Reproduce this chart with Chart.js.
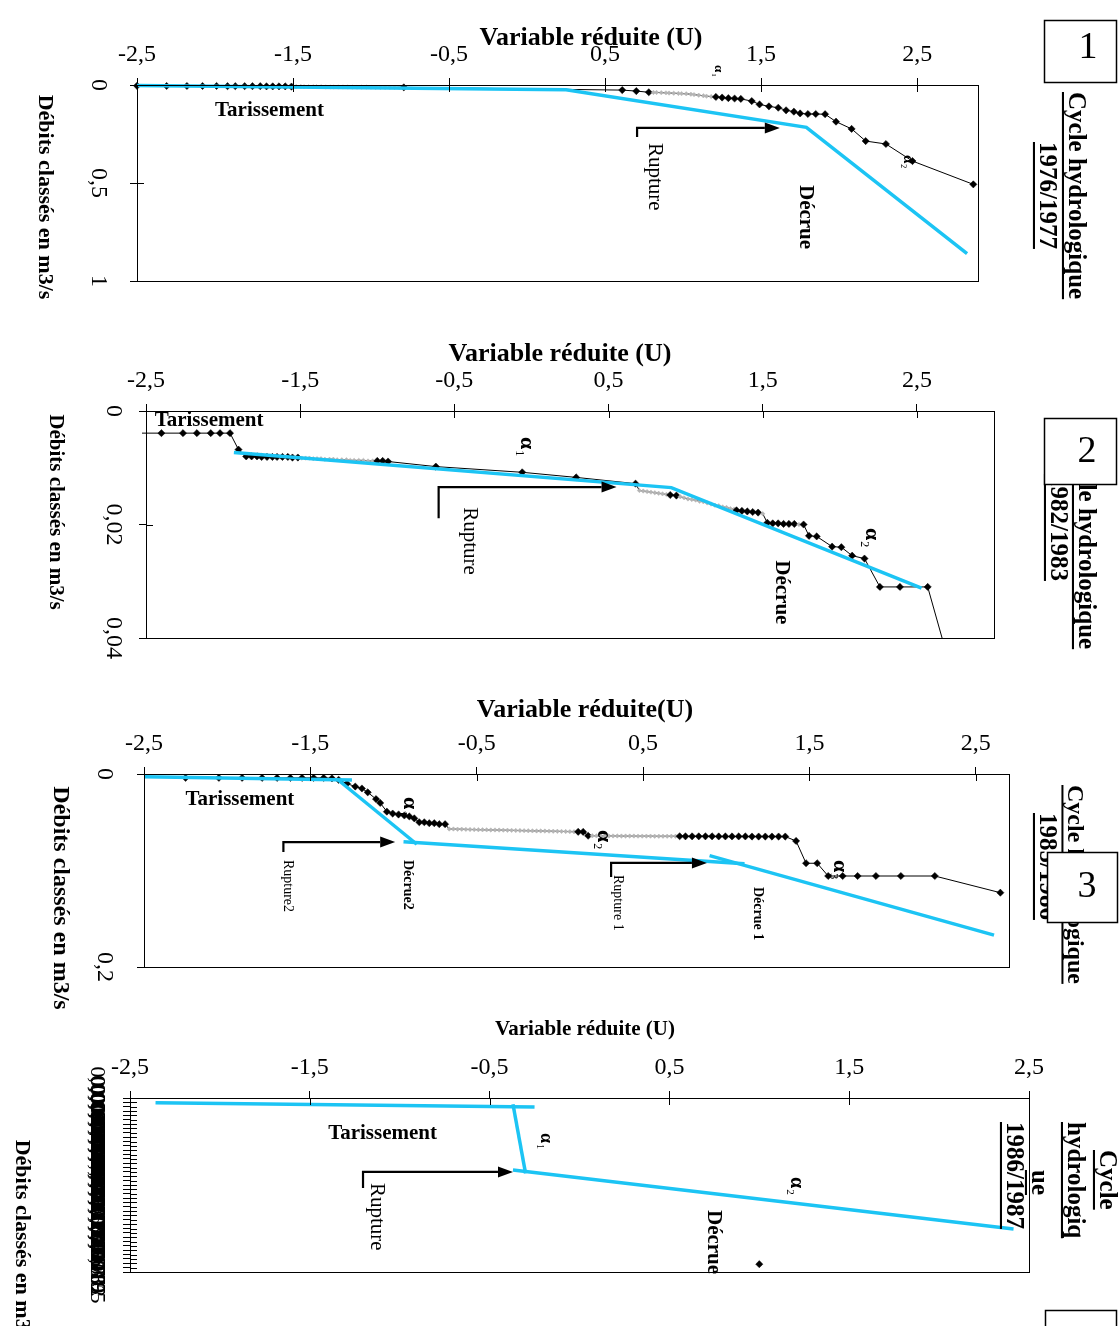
<!DOCTYPE html>
<html lang="fr">
<head>
<meta charset="utf-8">
<title>Débits classés - variable réduite</title>
<script src="https://cdn.jsdelivr.net/npm/chart.js@4.4.1/dist/chart.umd.min.js"></script>
<style>
  html, body { margin: 0; padding: 0; background: #fff; }
  body { position: relative; width: 1119px; height: 1326px; overflow: hidden; }
  canvas { position: absolute; left: 0; top: 0; }
</style>
</head>
<body>
<canvas id="p1" width="1119" height="1326"></canvas>
<canvas id="p2" width="1119" height="1326"></canvas>
<canvas id="p3" width="1119" height="1326"></canvas>
<canvas id="p4" width="1119" height="1326"></canvas>
<script>
// graduations communes de la variable réduite U
const uTicks = [-2.5, -1.5, -0.5, 0.5, 1.5, 2.5];

// Cycle 1976/1977 : [U, débit m3/s]
const cycle1 = [
  [-2.50, 0.004], [-2.31, 0.005], [-2.18, 0.005], [-2.08, 0.005], [-1.99, 0.005], [-1.92, 0.006], [-1.87, 0.006],
  [-1.81, 0.006], [-1.76, 0.006], [-1.71, 0.006], [-1.67, 0.007], [-1.63, 0.007], [-1.59, 0.007], [-1.55, 0.007], [-1.51, 0.008],
  [-1.48, 0.008], [-1.45, 0.008], [-1.43, 0.009], [-1.40, 0.009], [-1.37, 0.009], [-1.35, 0.009], [-1.32, 0.009], [-1.29, 0.010],
  [-1.26, 0.010], [-1.24, 0.010], [-1.21, 0.010], [-1.18, 0.010], [-1.15, 0.010], [-1.12, 0.011], [-1.09, 0.011], [-1.06, 0.011],
  [-1.03, 0.011], [-1.00, 0.011], [-0.97, 0.012], [-0.94, 0.012], [-0.91, 0.012], [-0.88, 0.012], [-0.85, 0.012],
  [-0.82, 0.012], [-0.79, 0.012],
  [0.61, 0.026], [0.70, 0.031],
  [0.78, 0.037], [0.81, 0.038], [0.83, 0.038], [0.86, 0.039], [0.89, 0.040], [0.91, 0.041], [0.94, 0.042], [0.97, 0.043],
  [0.99, 0.044], [1.02, 0.045], [1.05, 0.047], [1.07, 0.049], [1.10, 0.052], [1.13, 0.055], [1.15, 0.057], [1.18, 0.059],
  [1.21, 0.061], [1.25, 0.064], [1.29, 0.067], [1.33, 0.069],
  [1.37, 0.071], [1.44, 0.082], [1.49, 0.099], [1.55, 0.109], [1.61, 0.116], [1.66, 0.129], [1.71, 0.136], [1.75, 0.145],
  [1.80, 0.148], [1.85, 0.148], [1.91, 0.149], [1.98, 0.187], [2.08, 0.224], [2.17, 0.286], [2.30, 0.301], [2.47, 0.388], [2.86, 0.507]
];
const droite1 = [[-2.5, 0.003], [0.25, 0.024], [1.79, 0.216], [2.82, 0.86]];
const qTicks1 = [0, 0.5, 1];

// Cycle 1982/1983
const cycle2 = [
  [-2.80, 0.0039], [-2.40, 0.0039], [-2.26, 0.0039], [-2.17, 0.0039], [-2.08, 0.0039], [-2.02, 0.0039], [-1.955, 0.0039], [-1.90, 0.0068],
  [-1.85, 0.0080], [-1.815, 0.0080], [-1.78, 0.0080], [-1.75, 0.0081], [-1.715, 0.0081], [-1.68, 0.0081], [-1.65, 0.0081],
  [-1.615, 0.0081], [-1.58, 0.0081], [-1.55, 0.0082], [-1.515, 0.0082],
  [-1.49, 0.0083], [-1.465, 0.0083], [-1.44, 0.0083], [-1.415, 0.0084], [-1.39, 0.0084], [-1.365, 0.0084], [-1.34, 0.0085],
  [-1.31, 0.0085], [-1.285, 0.0085], [-1.26, 0.0086], [-1.23, 0.0086], [-1.20, 0.0086], [-1.175, 0.0087], [-1.15, 0.0087],
  [-1.12, 0.0087], [-1.09, 0.0087], [-1.06, 0.0088], [-1.03, 0.0088], [-1.00, 0.0088], [-0.965, 0.0088],
  [-0.93, 0.0089], [-0.62, 0.0098], [-0.06, 0.0108], [0.29, 0.0117], [0.675, 0.0128],
  [0.70, 0.0140], [0.725, 0.0141], [0.75, 0.0142], [0.775, 0.0143], [0.80, 0.0144], [0.825, 0.0145], [0.85, 0.0146],
  [0.875, 0.0147], [0.90, 0.0148], [0.94, 0.0149], [0.965, 0.0151], [0.99, 0.0153], [1.015, 0.0155], [1.04, 0.0156],
  [1.065, 0.0157], [1.09, 0.0159], [1.115, 0.0160], [1.14, 0.0162], [1.165, 0.0164], [1.19, 0.0166], [1.215, 0.0167],
  [1.24, 0.0169], [1.265, 0.0170], [1.29, 0.0172], [1.315, 0.0173],
  [1.33, 0.0175], [1.365, 0.0176], [1.40, 0.0177], [1.435, 0.0178], [1.47, 0.0179], [1.50, 0.0181],
  [1.53, 0.0197], [1.565, 0.0198], [1.60, 0.0198], [1.635, 0.0199], [1.67, 0.0199], [1.705, 0.0199], [1.735, 0.0200], [1.765, 0.0200],
  [1.80, 0.0220], [1.85, 0.0221], [1.95, 0.0239], [2.01, 0.0240], [2.08, 0.0255], [2.16, 0.0260],
  [2.26, 0.0310], [2.39, 0.0310], [2.57, 0.0310], [2.85, 0.058]
];
const droite2 = [[-1.93, 0.0073], [0.907, 0.0135], [2.53, 0.0312]];
const qTicks2 = [0, 0.02, 0.04];

// Cycle 1985/1986
const cycle3 = [
  [-2.25, 0.004], [-2.05, 0.004], [-1.91, 0.004], [-1.79, 0.004], [-1.70, 0.004], [-1.62, 0.004], [-1.55, 0.004],
  [-1.48, 0.004], [-1.42, 0.004], [-1.37, 0.0045],
  [-1.33, 0.006], [-1.28, 0.010], [-1.23, 0.013], [-1.19, 0.015], [-1.155, 0.019], [-1.105, 0.026], [-1.08, 0.030], [-1.04, 0.039],
  [-1.005, 0.041], [-0.97, 0.042], [-0.935, 0.043], [-0.905, 0.044], [-0.875, 0.046], [-0.845, 0.050], [-0.815, 0.050],
  [-0.785, 0.051], [-0.755, 0.051], [-0.725, 0.052], [-0.69, 0.052],
  [-0.665, 0.0570], [-0.64, 0.0570], [-0.615, 0.0572], [-0.59, 0.0572], [-0.565, 0.0574], [-0.54, 0.0575], [-0.515, 0.0576],
  [-0.49, 0.0577], [-0.465, 0.0578], [-0.44, 0.0579], [-0.415, 0.0580], [-0.39, 0.0580], [-0.365, 0.0581], [-0.34, 0.0582],
  [-0.315, 0.0583], [-0.29, 0.0584], [-0.265, 0.0585], [-0.24, 0.0586], [-0.215, 0.0587], [-0.19, 0.0588], [-0.165, 0.0589],
  [-0.14, 0.0590], [-0.115, 0.0590], [-0.09, 0.0591], [-0.065, 0.0592], [-0.04, 0.0593], [-0.015, 0.0594], [0.01, 0.0595],
  [0.035, 0.0596], [0.06, 0.0597], [0.085, 0.0598], [0.11, 0.0599],
  [0.14, 0.0600],
  [0.17, 0.0640], [0.195, 0.0640], [0.22, 0.0641], [0.245, 0.0641], [0.27, 0.0641], [0.295, 0.0642], [0.32, 0.0642],
  [0.345, 0.0642], [0.37, 0.0643], [0.395, 0.0643], [0.42, 0.0643], [0.445, 0.0643], [0.47, 0.0644], [0.495, 0.0644],
  [0.52, 0.0644], [0.545, 0.0644], [0.57, 0.0645], [0.595, 0.0645], [0.62, 0.0645], [0.645, 0.0645], [0.67, 0.0645],
  [0.695, 0.0645], [0.72, 0.0645],
  [0.755, 0.0646], [0.795, 0.0646], [0.835, 0.0646], [0.875, 0.0646], [0.915, 0.0646], [0.955, 0.0647], [0.995, 0.0647],
  [1.035, 0.0647], [1.075, 0.0647], [1.115, 0.0647], [1.155, 0.0648], [1.195, 0.0648], [1.235, 0.0648], [1.275, 0.0648],
  [1.315, 0.0648], [1.355, 0.0648],
  [1.42, 0.0694], [1.48, 0.0925], [1.547, 0.0925], [1.613, 0.1057], [1.70, 0.1057], [1.79, 0.1057], [1.90, 0.1057],
  [2.05, 0.1057], [2.254, 0.1057], [2.648, 0.123]
];
const droites3 = [
  [[-2.5, 0.0028], [-1.25, 0.0062]],
  [[-1.34, 0.0052], [-0.86, 0.0728]],
  [[-0.94, 0.0702], [1.11, 0.093]],
  [[0.90, 0.0846], [2.61, 0.167]]
];
const qTicks3 = [0, 0.2];

// Cycle 1986/1987
const cycle4 = [[1.0, 0.00191]];
const droites4 = [
  [[-2.358, 0.000054], [-0.25, 0.000103]],
  [[-0.37, 0.0000724], [-0.30, 0.000866]],
  [[-0.37, 0.000828], [2.414, 0.001506]]
];
const qStep4 = 0.00005;

const bleu = '#1cc4f4';
const serif = 'Liberation Serif';
const XBAND = 50; // hauteur reservee aux etiquettes de l'axe U

function fmt(v) { return String(+v.toFixed(6)).replace('.', ','); }
function pts(a) { return a.map(p => ({ x: p[0], y: p[1] })); }

// points tres rapproches : dessines en gris, comme dans l'original
function dense(c) {
  if (c.type !== 'data') return false;
  const d = c.dataset.data, i = c.dataIndex, sx = c.chart.scales.x;
  if (!sx || !c.chart.chartArea) return false;
  const px = j => sx.getPixelForValue(d[j].x);
  const g1 = i > 0 ? px(i) - px(i - 1) : 99;
  const g2 = i < d.length - 1 ? px(i + 1) - px(i) : 99;
  return g1 < 4.9 && g2 < 4.9;
}

function serie(points) {
  return {
    data: pts(points),
    showLine: true,
    borderColor: '#000',
    borderWidth: 1,
    pointStyle: 'rectRot',
    pointRadius: c => dense(c) ? 2.2 : 3.6,
    pointBackgroundColor: c => dense(c) ? '#b4b4b4' : '#000',
    pointBorderColor: c => dense(c) ? '#b4b4b4' : '#000',
    pointBorderWidth: 0.5,
    clip: { left: 4, top: 6, right: 6, bottom: 0 },
    order: 2
  };
}

function droite(points) {
  return {
    data: pts(points),
    showLine: true,
    borderColor: bleu,
    borderWidth: 3.5,
    pointRadius: 0,
    clip: { left: 4, top: 6, right: 6, bottom: 0 },
    order: 1
  };
}

function texte(ctx, s, px, py, st) {
  ctx.save();
  ctx.font = (st.bold ? 'bold ' : '') + st.size + 'px "' + serif + '"';
  ctx.fillStyle = '#000';
  ctx.textBaseline = 'middle';
  ctx.textAlign = st.align || 'left';
  ctx.translate(px, py);
  if (st.rot) ctx.rotate(Math.PI / 2);
  ctx.fillText(s, 0, 0);
  if (st.underline) {
    const w = ctx.measureText(s).width;
    const x0 = st.align === 'center' ? -w / 2 : 0;
    ctx.fillRect(x0, st.size * 0.44, w, Math.max(1.5, st.size / 12));
  }
  ctx.restore();
}

function alpha(ctx, sub, px, py, size) {
  ctx.save();
  ctx.translate(px, py);
  ctx.rotate(Math.PI / 2);
  ctx.fillStyle = '#000';
  ctx.textBaseline = 'middle';
  ctx.textAlign = 'left';
  ctx.font = 'bold ' + size + 'px "' + serif + '"';
  ctx.fillText('α', 0, 0);
  const w = ctx.measureText('α').width;
  ctx.font = Math.round(size * 0.55) + 'px "' + serif + '"';
  ctx.fillText(sub, w + 1, size * 0.32);
  ctx.restore();
}

function decor(p) {
  return {
    id: 'decor' + p.n,
    afterDatasetsDraw(chart) {
      const { ctx, chartArea: a, scales: { x, y } } = chart;
      ctx.save();
      ctx.strokeStyle = '#000';
      ctx.lineWidth = 1;
      ctx.strokeRect(Math.round(a.left) + 0.5, Math.round(a.top) + 0.5,
        Math.round(a.right - a.left), Math.round(a.bottom - a.top));
      // moitie interieure des graduations en croix
      ctx.beginPath();
      x.ticks.forEach(t => {
        const px = Math.round(x.getPixelForValue(t.value)) + 0.5;
        ctx.moveTo(px, a.top); ctx.lineTo(px, a.top + 7);
      });
      y.ticks.forEach(t => {
        const py = Math.round(y.getPixelForValue(t.value)) + 0.5;
        ctx.moveTo(a.left, py); ctx.lineTo(a.left + 7, py);
      });
      ctx.stroke();
      // fleches de rupture
      p.arrows.forEach(ar => {
        const q = ar.map(([u, v]) => [x.getPixelForValue(u), y.getPixelForValue(v)]);
        const [tx, ty] = q[q.length - 1];
        const [fx, fy] = q[q.length - 2];
        const ang = Math.atan2(ty - fy, tx - fx);
        const L = 15, H = 5.5;
        ctx.lineWidth = 2.2;
        ctx.beginPath();
        q.forEach(([px, py], i) => {
          if (i === 0) ctx.moveTo(px, py);
          else if (i < q.length - 1) ctx.lineTo(px, py);
        });
        ctx.lineTo(tx - L * Math.cos(ang), ty - L * Math.sin(ang));
        ctx.stroke();
        ctx.beginPath();
        ctx.moveTo(tx, ty);
        ctx.lineTo(tx - L * Math.cos(ang) + H * Math.sin(ang), ty - L * Math.sin(ang) - H * Math.cos(ang));
        ctx.lineTo(tx - L * Math.cos(ang) - H * Math.sin(ang), ty - L * Math.sin(ang) + H * Math.cos(ang));
        ctx.closePath();
        ctx.fillStyle = '#000';
        ctx.fill();
      });
      ctx.restore();
    },
    afterDraw(chart) {
      const { ctx, scales: { x, y } } = chart;
      y.ticks.forEach(t => texte(ctx, t.label, p.yLabelX, y.getPixelForValue(t.value),
        { size: p.tickSize, rot: true, align: 'center' }));
      texte(ctx, p.xTitle.text, p.xTitle.x, p.xTitle.y, { size: p.xTitle.size, bold: true, align: 'center' });
      texte(ctx, 'Débits classés en m3/s', p.yTitle.x, p.yTitle.y, { size: p.yTitle.size, bold: true, rot: true, align: 'center' });
      p.labels.forEach(l => texte(ctx, l.text, x.getPixelForValue(l.u), y.getPixelForValue(l.q), l));
      p.alphas.forEach(al => alpha(ctx, al.sub, x.getPixelForValue(al.u), y.getPixelForValue(al.q), al.size));
      p.cycle.forEach(c => texte(ctx, c.text, c.x, c.y, { size: c.size, bold: true, rot: true, underline: true }));
      const b = p.box;
      ctx.save();
      ctx.fillStyle = '#fff';
      ctx.fillRect(b.x, b.y, b.w, b.h);
      ctx.strokeStyle = '#000';
      ctx.lineWidth = 1.5;
      ctx.strokeRect(b.x + 0.5, b.y + 0.5, b.w, b.h);
      ctx.restore();
      if (b.t) texte(ctx, b.t, b.tx, b.ty, { size: 38, align: 'center' });
    }
  };
}

function echelles(p) {
  return {
    x: {
      type: 'linear', position: 'top', min: -2.5, max: p.uMax,
      afterBuildTicks: s => { s.ticks = uTicks.map(v => ({ value: v })); },
      afterFit: s => { s.height = XBAND; },
      grid: { drawOnChartArea: false, tickLength: 7, color: '#000' },
      border: { color: '#000', width: 1 },
      ticks: {
        color: '#000', padding: 9, autoSkip: false, maxRotation: 0,
        font: { family: serif, size: 24 }, callback: v => fmt(v)
      }
    },
    y: {
      type: 'linear', position: 'left', reverse: true, min: 0, max: p.qMax,
      afterBuildTicks: s => { if (p.qTicks) s.ticks = p.qTicks.map(v => ({ value: v })); },
      afterFit: s => { s.width = 0; },
      grid: { drawOnChartArea: false, tickLength: 7, color: '#000' },
      border: { color: '#000', width: 1 },
      ticks: { display: false, stepSize: p.qStep, maxTicksLimit: 100, callback: v => fmt(v) }
    }
  };
}

function graphique(id, p, datasets) {
  const pad = Object.assign({}, p.area, { top: p.area.top - XBAND });
  return new Chart(document.getElementById(id), {
    type: 'scatter',
    data: { datasets },
    options: {
      responsive: false,
      animation: false,
      events: [],
      layout: { padding: pad },
      scales: echelles(p),
      plugins: { legend: { display: false }, tooltip: { enabled: false } }
    },
    plugins: [decor(p)]
  });
}

graphique('p1', {
  n: 1, area: { left: 137, right: 141, top: 85, bottom: 1045 },
  uMax: 2.89, qMax: 1, qTicks: qTicks1, yLabelX: 98, tickSize: 24,
  xTitle: { text: 'Variable réduite (U)', x: 591, y: 38, size: 26 },
  yTitle: { x: 45, y: 197, size: 22 },
  labels: [
    { text: 'Tarissement', u: -2.0, q: 0.128, size: 21, bold: true },
    { text: 'Rupture', u: 0.814, q: 0.296, size: 21, rot: true },
    { text: 'Décrue', u: 1.782, q: 0.51, size: 21, bold: true, rot: true }
  ],
  alphas: [{ sub: '1', u: 1.224, q: -0.102, size: 13 }, { sub: '2', u: 2.44, q: 0.357, size: 15 }],
  arrows: [[[0.705, 0.265], [0.705, 0.219], [1.62, 0.219]]],
  cycle: [{ text: 'Cycle hydrologique', x: 1075, y: 92, size: 25 }, { text: '1976/1977', x: 1046, y: 142, size: 25 }],
  box: { x: 1044, y: 20, w: 72, h: 62, t: '1', tx: 1088, ty: 48 }
}, [droite(droite1), serie(cycle1)]);

graphique('p2', {
  n: 2, area: { left: 146, right: 125, top: 411, bottom: 688 },
  uMax: 3.0, qMax: 0.04, qTicks: qTicks2, yLabelX: 113, tickSize: 24,
  xTitle: { text: 'Variable réduite (U)', x: 560, y: 354, size: 26 },
  yTitle: { x: 55, y: 512, size: 21 },
  labels: [
    { text: 'Tarissement', u: -2.444, q: 0.0016, size: 21, bold: true },
    { text: 'Rupture', u: -0.401, q: 0.01694, size: 21, rot: true },
    { text: 'Décrue', u: 1.621, q: 0.0263, size: 21, bold: true, rot: true }
  ],
  alphas: [{ sub: '1', u: -0.032, q: 0.00459, size: 22 }, { sub: '2', u: 2.206, q: 0.0206, size: 22 }],
  arrows: [[[-0.602, 0.01888], [-0.602, 0.01341], [0.552, 0.01341]]],
  cycle: [{ text: 'Cycle hydrologique', x: 1085, y: 442, size: 25 }, { text: '1982/1983', x: 1057, y: 474, size: 25 }],
  box: { x: 1044, y: 418, w: 72, h: 66, t: '2', tx: 1087, ty: 452 }
}, [droite(droite2), serie(cycle2)]);

graphique('p3', {
  n: 3, area: { left: 144, right: 110, top: 774, bottom: 359 },
  uMax: 2.7, qMax: 0.2, qTicks: qTicks3, yLabelX: 104, tickSize: 24,
  xTitle: { text: 'Variable réduite(U)', x: 585, y: 710, size: 26 },
  yTitle: { x: 60, y: 898, size: 24 },
  labels: [
    { text: 'Tarissement', u: -2.251, q: 0.0269, size: 21, bold: true },
    { text: 'Rupture2', u: -1.638, q: 0.0891, size: 14, rot: true },
    { text: 'Décrue2', u: -0.917, q: 0.0891, size: 14, bold: true, rot: true },
    { text: 'Rupture 1', u: 0.35, q: 0.1047, size: 14, rot: true },
    { text: 'Décrue 1', u: 1.19, q: 0.117, size: 14, bold: true, rot: true }
  ],
  alphas: [
    { sub: '1', u: -0.905, q: 0.0238, size: 22 },
    { sub: '2', u: 0.266, q: 0.058, size: 22 },
    { sub: '3', u: 1.683, q: 0.089, size: 22 }
  ],
  arrows: [
    [[-1.662, 0.0808], [-1.662, 0.0705], [-0.99, 0.0705]],
    [[0.308, 0.1067], [0.308, 0.0922], [0.884, 0.0922]]
  ],
  cycle: [{ text: 'Cycle hydrologique', x: 1074, y: 785, size: 24 }, { text: '1985/1986', x: 1046, y: 813, size: 25 }],
  box: { x: 1047, y: 852, w: 70, h: 70, t: '3', tx: 1087, ty: 887 }
}, [...droites3.map(droite), serie(cycle3)]);

graphique('p4', {
  n: 4, area: { left: 130, right: 90, top: 1098, bottom: 54 },
  uMax: 2.5, qMax: 0.002, qStep: qStep4, yLabelX: 97, tickSize: 22,
  xTitle: { text: 'Variable réduite (U)', x: 585, y: 1030, size: 21 },
  yTitle: { x: 22, y: 1242, size: 22 },
  labels: [
    { text: 'Tarissement', u: -1.398, q: 0.000414, size: 21, bold: true },
    { text: 'Rupture', u: -1.131, q: 0.000977, size: 21, rot: true },
    { text: 'Décrue', u: 0.747, q: 0.001287, size: 21, bold: true, rot: true }
  ],
  alphas: [{ sub: '1', u: -0.187, q: 0.000402, size: 18 }, { sub: '2', u: 1.203, q: 0.000908, size: 20 }],
  arrows: [[[-1.204, 0.001034], [-1.204, 0.00085], [-0.37, 0.00085]]],
  cycle: [
    { text: 'Cycle', x: 1106, y: 1150, size: 25 },
    { text: 'hydrologiq', x: 1074, y: 1122, size: 25 },
    { text: 'ue', x: 1038, y: 1170, size: 25 },
    { text: '1986/1987', x: 1013, y: 1122, size: 25 }
  ],
  box: { x: 1045, y: 1310, w: 71, h: 40, t: '' }
}, [...droites4.map(droite), serie(cycle4)]);
</script>
</body>
</html>
